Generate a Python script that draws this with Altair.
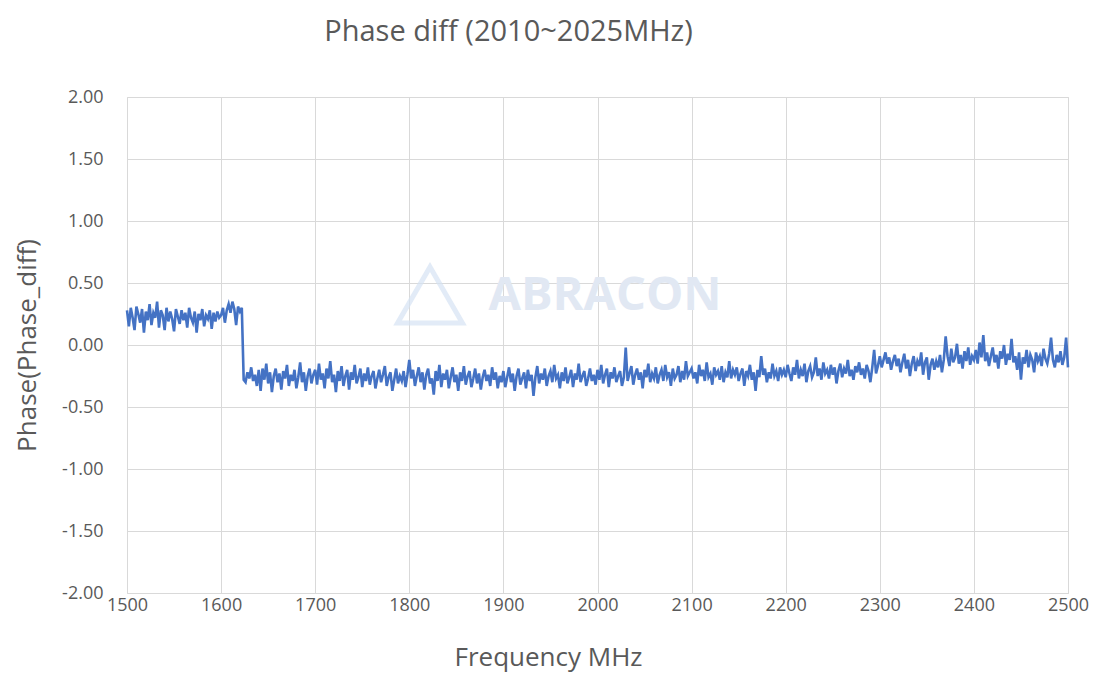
import altair as alt
import pandas as pd

# Sampling grid (MHz)
F_START = 1500
F_STEP = 2

seg_1500 = [0.28, 0.15, 0.30, 0.22, 0.12, 0.31, 0.25, 0.18, 0.29, 0.10, 0.27, 0.20, 0.33, 0.16, 0.26, 0.22, 0.35, 0.14, 0.28, 0.24,
            0.12, 0.30, 0.19, 0.27, 0.21, 0.11, 0.29, 0.23, 0.17, 0.28, 0.20, 0.26, 0.14, 0.30, 0.22, 0.18, 0.27, 0.10, 0.25, 0.20,
            0.29, 0.15, 0.24, 0.21, 0.28, 0.13, 0.26, 0.19, 0.27, 0.22]
seg_1600 = [0.24, 0.30, 0.18, 0.28, 0.33, 0.26, 0.35, 0.29, 0.16, 0.31, 0.27, 0.30, -0.28, -0.30, -0.22, -0.27, -0.18, -0.29, -0.24, -0.33,
            -0.20, -0.37, -0.19, -0.28, -0.15, -0.31, -0.22, -0.38, -0.25, -0.19, -0.30, -0.23, -0.36, -0.21, -0.27, -0.16, -0.33, -0.24, -0.29, -0.20,
            -0.35, -0.26, -0.14, -0.30, -0.22, -0.37, -0.25, -0.19, -0.31, -0.24]
seg_1700 = [-0.20, -0.32, -0.15, -0.28, -0.23, -0.35, -0.19, -0.27, -0.13, -0.30, -0.24, -0.38, -0.21, -0.29, -0.17, -0.33, -0.25, -0.20, -0.36, -0.22,
            -0.28, -0.16, -0.31, -0.26, -0.19, -0.34, -0.23, -0.29, -0.18, -0.32, -0.25, -0.21, -0.35, -0.27, -0.20, -0.30, -0.24, -0.17, -0.33, -0.26,
            -0.22, -0.37, -0.28, -0.19, -0.31, -0.25, -0.29, -0.21, -0.34, -0.24]
seg_1800 = [-0.12, -0.27, -0.20, -0.33, -0.25, -0.18, -0.30, -0.22, -0.36, -0.24, -0.19, -0.31, -0.27, -0.40, -0.21, -0.29, -0.16, -0.34, -0.23, -0.28,
            -0.20, -0.35, -0.26, -0.18, -0.30, -0.24, -0.37, -0.22, -0.29, -0.17, -0.32, -0.25, -0.21, -0.34, -0.27, -0.19, -0.31, -0.23, -0.36, -0.26,
            -0.20, -0.29, -0.24, -0.33, -0.18, -0.28, -0.22, -0.35, -0.25, -0.30]
seg_1900 = [-0.21, -0.34, -0.26, -0.18, -0.30, -0.23, -0.37, -0.25, -0.19, -0.32, -0.27, -0.22, -0.35, -0.20, -0.29, -0.24, -0.41, -0.26, -0.17, -0.31,
            -0.23, -0.28, -0.19, -0.33, -0.25, -0.21, -0.30, -0.16, -0.27, -0.24, -0.35, -0.22, -0.29, -0.18, -0.31, -0.26, -0.20, -0.34, -0.23, -0.28,
            -0.15, -0.30, -0.25, -0.21, -0.33, -0.27, -0.19, -0.29, -0.24, -0.32]
seg_2000 = [-0.20, -0.28, -0.16, -0.31, -0.24, -0.19, -0.34, -0.22, -0.27, -0.18, -0.30, -0.25, -0.21, -0.33, -0.26, -0.02, -0.29, -0.23, -0.17, -0.32,
            -0.24, -0.19, -0.28, -0.22, -0.35, -0.20, -0.26, -0.15, -0.30, -0.23, -0.27, -0.18, -0.31, -0.24, -0.20, -0.29, -0.16, -0.26, -0.22, -0.33,
            -0.19, -0.27, -0.24, -0.17, -0.30, -0.21, -0.28, -0.13, -0.25, -0.22]
seg_2100 = [-0.19, -0.27, -0.22, -0.31, -0.16, -0.25, -0.20, -0.29, -0.14, -0.26, -0.23, -0.32, -0.18, -0.24, -0.21, -0.28, -0.17, -0.30, -0.22, -0.26,
            -0.13, -0.27, -0.20, -0.24, -0.18, -0.29, -0.23, -0.19, -0.33, -0.21, -0.25, -0.16, -0.28, -0.22, -0.37, -0.20, -0.26, -0.09, -0.24, -0.19,
            -0.30, -0.22, -0.27, -0.15, -0.25, -0.21, -0.29, -0.18, -0.24, -0.20]
seg_2200 = [-0.26, -0.16, -0.23, -0.29, -0.18, -0.24, -0.12, -0.27, -0.20, -0.25, -0.15, -0.30, -0.21, -0.17, -0.26, -0.22, -0.10, -0.25, -0.19, -0.28,
            -0.14, -0.23, -0.20, -0.27, -0.16, -0.24, -0.18, -0.31, -0.21, -0.15, -0.26, -0.19, -0.23, -0.12, -0.25, -0.20, -0.28, -0.17, -0.22, -0.14,
            -0.24, -0.19, -0.27, -0.16, -0.21, -0.30, -0.18, -0.04, -0.23, -0.17]
seg_2300 = [-0.09, -0.18, -0.12, -0.06, -0.15, -0.10, -0.20, -0.13, -0.08, -0.17, -0.11, -0.22, -0.14, -0.07, -0.19, -0.12, -0.25, -0.15, -0.09, -0.21,
            -0.13, -0.17, -0.06, -0.24, -0.14, -0.10, -0.28, -0.16, -0.11, -0.20, -0.13, -0.18, -0.08, -0.22, -0.12, 0.07, -0.09, -0.17, -0.03, -0.14,
            -0.10, 0.01, -0.15, -0.08, -0.19, -0.05, -0.13, -0.02, -0.16, -0.09]
seg_2400 = [-0.12, -0.04, -0.15, 0.02, -0.10, 0.08, -0.13, -0.06, -0.17, -0.09, -0.02, -0.14, -0.08, -0.19, -0.05, -0.11, 0.00, -0.16, -0.07, -0.12,
            0.05, -0.14, -0.09, -0.20, -0.06, -0.28, -0.10, -0.15, -0.04, -0.18, -0.08, -0.12, -0.22, -0.06, -0.13, -0.09, -0.17, -0.03, -0.11, -0.15,
            -0.07, 0.06, -0.12, -0.18, -0.08, -0.14, -0.05, -0.16, -0.10, 0.06, -0.18]

phase = seg_1500 + seg_1600 + seg_1700 + seg_1800 + seg_1900 + seg_2000 + seg_2100 + seg_2200 + seg_2300 + seg_2400
freq = [F_START + F_STEP * i for i in range(len(phase))]

x_ticks = [1500, 1600, 1700, 1800, 1900, 2000, 2100, 2200, 2300, 2400, 2500]
y_ticks = [-2.0, -1.5, -1.0, -0.5, 0.0, 0.5, 1.0, 1.5, 2.0]

df = pd.DataFrame({"Frequency": freq, "Phase": phase})

FONT = "Open Sans"
GREY = "#595959"

line = alt.Chart(df).mark_line(color="#4472c4", strokeWidth=2.6).encode(
    x=alt.X("Frequency:Q",
            scale=alt.Scale(domain=[1500, 2500], nice=False, zero=False),
            axis=alt.Axis(values=x_ticks, format="d", title="Frequency MHz",
                          grid=True, gridColor="#d9d9d9", gridWidth=1,
                          domain=False, ticks=False, labelFlush=False,
                          labelFont=FONT, labelFontSize=18, labelColor=GREY, labelPadding=3,
                          titleFont=FONT, titleFontSize=26, titleFontWeight="normal", titleColor=GREY,
                          titleX=421, titleY=72, titleBaseline="alphabetic", titleAnchor=None)),
    y=alt.Y("Phase:Q",
            scale=alt.Scale(domain=[-2, 2], nice=False),
            axis=alt.Axis(values=y_ticks, title="Phase(Phase_diff)",
                          labelExpr="replace(format(datum.value, '.2f'), '\u2212', '-')",
                          grid=True, gridColor="#d9d9d9", gridWidth=1,
                          domain=False, ticks=False,
                          labelFont=FONT, labelFontSize=18, labelColor=GREY, labelPadding=24,
                          titleFont=FONT, titleFontSize=26, titleFontWeight="normal", titleColor=GREY,
                          titleX=-100, titleY=248, titleBaseline="middle", titleAnchor=None)),
)

wm_text = alt.Chart(pd.DataFrame({"t": ["ABRACON"]})).mark_text(
    font=FONT, fontSize=47, fontWeight="bold", color="#e1e8f3", align="center", baseline="middle"
).encode(text="t:N", x=alt.value(478), y=alt.value(199))

wm_logo = alt.Chart(pd.DataFrame({"t": ["logo"]})).mark_point(
    shape="triangle-up", filled=False, stroke="#d6e3f4", strokeWidth=5, size=4200
).encode(x=alt.value(303), y=alt.value(198))

chart = alt.layer(wm_logo, wm_text, line).properties(
    width=941, height=496,
    title=alt.TitleParams("Phase diff (2010~2025MHz)", font=FONT, fontSize=29, fontWeight="normal",
                          color=GREY, anchor="middle", dx=-89, offset=41),
    autosize=alt.AutoSizeParams(type="none"),
    padding={"left": 119, "top": 89, "right": 22, "bottom": 80},
).configure_view(stroke=None).configure(background="white")

chart.save("out.html", embed_options={"renderer": "svg", "actions": False})
